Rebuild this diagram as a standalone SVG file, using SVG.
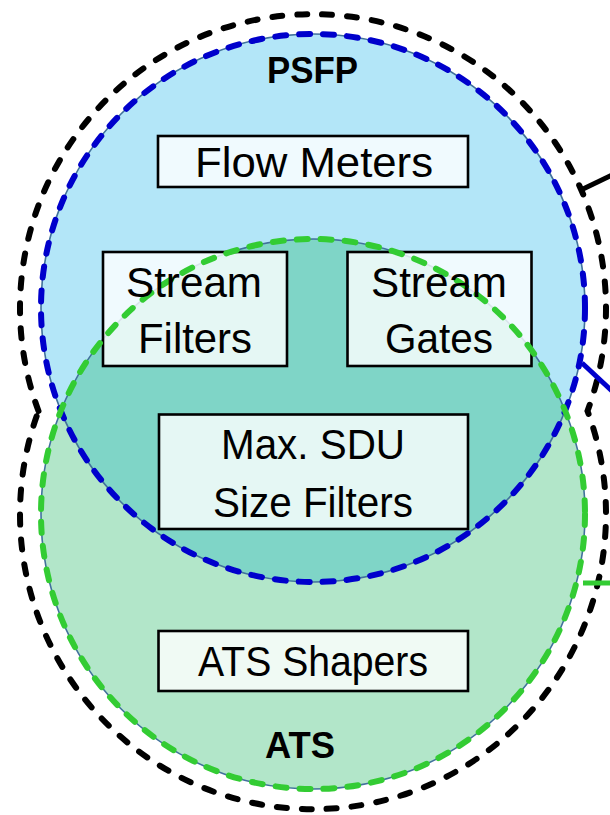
<svg xmlns="http://www.w3.org/2000/svg" width="610" height="815" viewBox="0 0 610 815">
<style>
.thin{fill:none;stroke:#41719c;stroke-width:1.6}
.box{fill:#ffffff;fill-opacity:0.8;stroke:#000;stroke-width:2.6}
.bdash{fill:none;stroke:#0000cc;stroke-width:6;stroke-dasharray:11 13;stroke-linecap:round}
.gdash{fill:none;stroke:#33cc33;stroke-width:6;stroke-dasharray:11 13;stroke-linecap:round}
.kdash{fill:none;stroke:#000;stroke-width:6;stroke-dasharray:10 15;stroke-linecap:round}
.lbl{font-family:"Liberation Sans",Arial,sans-serif;font-size:42px;fill:#000}
.ttl{font-family:"Liberation Sans",Arial,sans-serif;font-size:36px;font-weight:bold;fill:#000}
.conn{fill:none;stroke-width:5}
</style>
<defs>
<clipPath id="blueClip"><ellipse cx="313" cy="308" rx="272" ry="274"/></clipPath>
</defs>
<g id="outline">
<path class="kdash" d="M 38.5 411 A 293 294 0 1 1 587.5 411 A 293 295 0 1 1 38.5 411 Z"/>
</g>
<g id="psfp-area">
<ellipse cx="313" cy="308" rx="272" ry="274" fill="#b3e6f8"/>
</g>
<g id="ats-area">
<ellipse cx="313" cy="514" rx="272" ry="275" fill="#b2e6c9"/>
<ellipse cx="313" cy="514" rx="272" ry="275" fill="#7fd5c7" clip-path="url(#blueClip)"/>
</g>
<ellipse class="thin" cx="313" cy="308" rx="272" ry="274"/>
<ellipse class="thin" cx="313" cy="514" rx="272" ry="275"/>
<g id="flow-meters"><rect class="box" x="158" y="136" width="310" height="51"/></g>
<g id="stream-filters"><rect class="box" x="103" y="252" width="184" height="114"/></g>
<g id="stream-gates"><rect class="box" x="347.5" y="252" width="184" height="114"/></g>
<g id="max-sdu"><rect class="box" x="159" y="414.5" width="309" height="114.5"/></g>
<g id="ats-shapers"><rect class="box" x="158.5" y="631" width="309.5" height="60"/></g>
<ellipse class="bdash" cx="313" cy="308" rx="272" ry="274"/>
<ellipse class="gdash" cx="313" cy="514" rx="272" ry="275"/>
<g id="connectors">
<line class="conn" x1="583" y1="189" x2="612" y2="175" stroke="#000"/>
<line class="conn" x1="582" y1="363" x2="612" y2="391" stroke="#0000cc"/>
<line class="conn" x1="583" y1="583" x2="612" y2="583" stroke="#33cc33"/>
</g>
<g id="labels">
<text class="ttl" x="267" y="83" textLength="91" lengthAdjust="spacingAndGlyphs">PSFP</text>
<text class="lbl" x="195" y="177" textLength="238" lengthAdjust="spacingAndGlyphs">Flow Meters</text>
<text class="lbl" x="126" y="297" textLength="136" lengthAdjust="spacingAndGlyphs">Stream</text>
<text class="lbl" x="138" y="353" textLength="114" lengthAdjust="spacingAndGlyphs">Filters</text>
<text class="lbl" x="371" y="297" textLength="136" lengthAdjust="spacingAndGlyphs">Stream</text>
<text class="lbl" x="385" y="353" textLength="108" lengthAdjust="spacingAndGlyphs">Gates</text>
<text class="lbl" x="221" y="459" textLength="184" lengthAdjust="spacingAndGlyphs">Max. SDU</text>
<text class="lbl" x="213" y="517" textLength="200" lengthAdjust="spacingAndGlyphs">Size Filters</text>
<text class="lbl" x="198" y="676" textLength="230" lengthAdjust="spacingAndGlyphs">ATS Shapers</text>
<text class="ttl" x="265" y="758" textLength="70" lengthAdjust="spacingAndGlyphs">ATS</text>
</g>
</svg>
